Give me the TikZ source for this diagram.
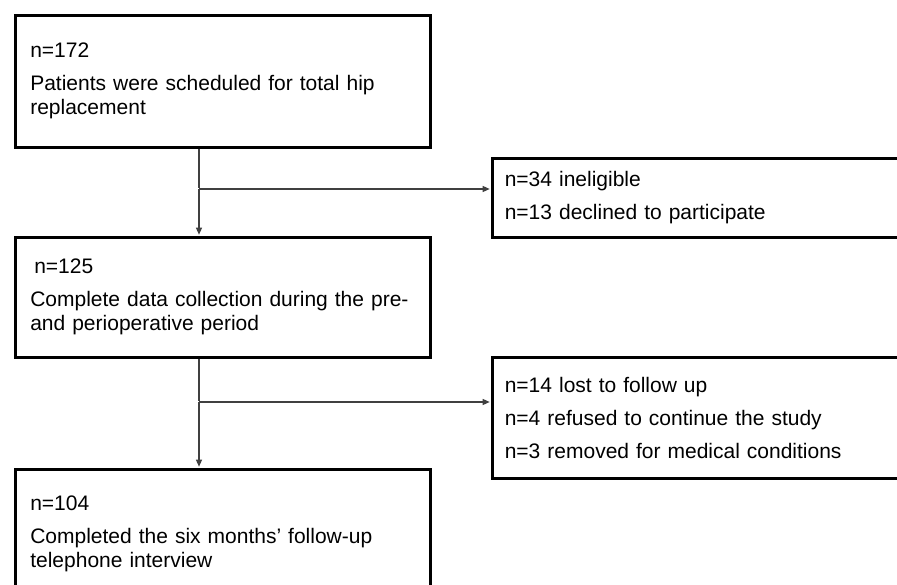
\documentclass[tikz,border=0pt]{standalone}
\usepackage{fontspec}
\setmainfont{Liberation Sans}
\usetikzlibrary{arrows.meta}

\begin{document}
\begin{tikzpicture}[x=1pt, y=-1pt,
  box/.style={draw, line width=2.6pt, rectangle, anchor=north west,
    align=left, inner xsep=15pt, inner ysep=0pt,
    font=\fontsize{21}{24}\selectfont},
  side/.style={box, inner xsep=12pt, text width=395pt, minimum width=420pt},
  link/.style={line width=1.3pt, draw=black!75, shorten >=1.3pt,
    -{Triangle[length=7pt,width=6pt]}}]

\newcommand\gap{9pt}

\useasboundingbox (0,0) rectangle (897,585);
\clip (0,0) rectangle (897,585); %% right boxes and last box run off the page

%% main column
\node[box, text width=385pt, minimum height=132pt] (sched) at (14,14)
{n=172\\[\gap]Patients were scheduled for total hip\\replacement};
\node[box, text width=385pt, minimum height=120pt] (collect) at (14,236)
{\hspace{4pt}n=125\\[\gap]Complete data collection during the pre-\\and perioperative period};
\node[box, text width=385pt, minimum height=130pt] (phone) at (14,468)
{n=104\\[\gap]Completed the six months' follow-up\\telephone interview};

%% exclusions
\node[side, minimum height=79pt] (excl) at (491,157)
{n=34 ineligible\\[\gap]n=13 declined to participate};
\node[side, minimum height=121pt] (lost) at (491,356)
{n=14 lost to follow up\\[\gap]n=4 refused to continue the study\\[\gap]n=3 removed for medical conditions};

%% connectors
\coordinate (j1) at (199,189);
\coordinate (j2) at (199,402);

\draw[link, -] (sched.south -| j1) -- (j1);
\draw[link] (j1) -- (j1 |- collect.north);
\draw[link] (j1) -- (j1 -| excl.west);

\draw[link, -] (collect.south -| j2) -- (j2);
\draw[link] (j2) -- (j2 |- phone.north);
\draw[link] (j2) -- (j2 -| lost.west);

\end{tikzpicture}
\end{document}
